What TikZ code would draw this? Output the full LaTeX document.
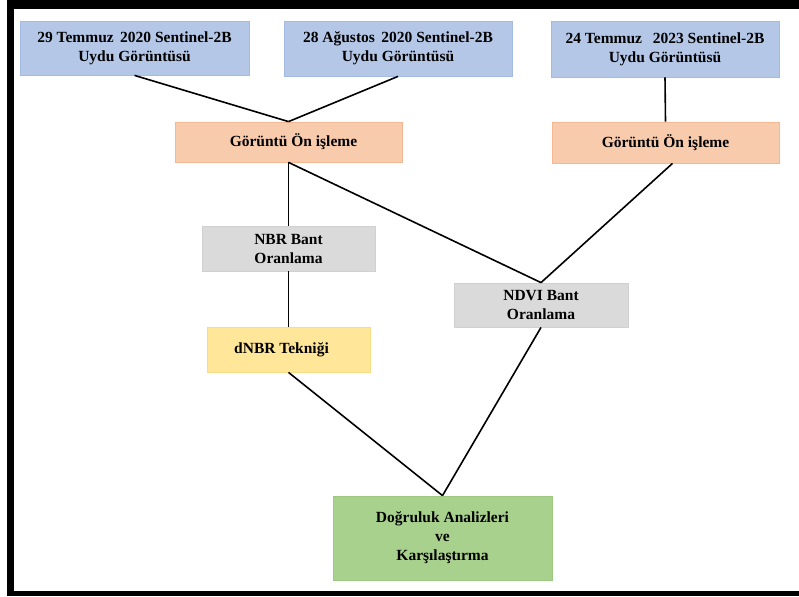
\documentclass[tikz,border=0pt]{standalone}
\usepackage{fontspec}
\setmainfont{Liberation Serif}
\usetikzlibrary{calc}
\definecolor{bluefill}{HTML}{B4C7E7}
\definecolor{blueline}{HTML}{A3BBE3}
\definecolor{orfill}{HTML}{F8CBAD}
\definecolor{orline}{HTML}{F4B994}
\definecolor{greyfill}{HTML}{DADADA}
\definecolor{greyline}{HTML}{D0D0D0}
\definecolor{yelfill}{HTML}{FFE699}
\definecolor{yelline}{HTML}{F9DC85}
\definecolor{grnfill}{HTML}{A9D18E}
\definecolor{grnline}{HTML}{9CC87F}
\begin{document}
\begin{tikzpicture}[x=1pt,y=-1pt,
  box/.style={rectangle,inner sep=0pt,align=center,line width=0.8pt,
    font=\bfseries\fontsize{15.5}{19}\selectfont},
  bluebox/.style={box,fill=bluefill,draw=blueline},
  orbox/.style={box,fill=orfill,draw=orline},
  greybox/.style={box,fill=greyfill,draw=greyline},
  yelbox/.style={box,fill=yelfill,draw=yelline},
  grnbox/.style={box,fill=grnfill,draw=grnline},
  conn/.style={line width=1.6pt,black}]
\useasboundingbox (0,0) rectangle (799,596);
% frame
\fill[black] (7,0) rectangle (799,9);
\fill[black] (7,0) rectangle (14,596);
\fill[black] (7,591) rectangle (799,596);
% nodes
\node[bluebox,minimum width=229,minimum height=54] (b1) at (134.5,48) {29 Temmuz\, 2020 Sentinel-2B\\Uydu Görüntüsü};
\node[bluebox,minimum width=228,minimum height=55] (b2) at (398,48.5) {28 Ağustos\, 2020 Sentinel-2B\\Uydu Görüntüsü};
\node[bluebox,minimum width=228,minimum height=56] (b3) at (665,49) {24 Temmuz\;\, 2023 Sentinel-2B\\Uydu Görüntüsü};
\node[orbox,minimum width=227,minimum height=40] (o1) at (288.5,142) {\hspace*{10pt}Görüntü Ön işleme};
\node[orbox,minimum width=227,minimum height=41] (o2) at (665.5,142.5) {Görüntü Ön işleme};
\node[greybox,minimum width=173,minimum height=45] (nbr) at (288.5,248.5) {NBR Bant\\Oranlama};
\node[greybox,minimum width=174,minimum height=44] (ndvi) at (541,305) {NDVI Bant\\Oranlama};
\node[yelbox,minimum width=163,minimum height=45] (dnbr) at (288.5,349.5) {dNBR Tekniği\hspace*{14pt}};
\node[grnbox,minimum width=219,minimum height=84] (acc) at (442.5,538) {Doğruluk Analizleri\\ve\\Karşılaştırma};
% connectors
\draw[conn] (b1.south) -- (o1.north);
\draw[conn] (b2.south) -- (o1.north);
\draw[conn] (b3.south) -- (o2.north);
\draw[conn] (o1.south) -- (nbr.north);
\draw[conn] (o1.south) -- (ndvi.north);
\draw[conn] ($(o2.south)+(7,0)$) -- (ndvi.north);
\draw[conn] (nbr.south) -- (dnbr.north);
\draw[conn] (dnbr.south) -- (acc.north);
\draw[conn] (ndvi.south) -- (acc.north);
\end{tikzpicture}
\end{document}
